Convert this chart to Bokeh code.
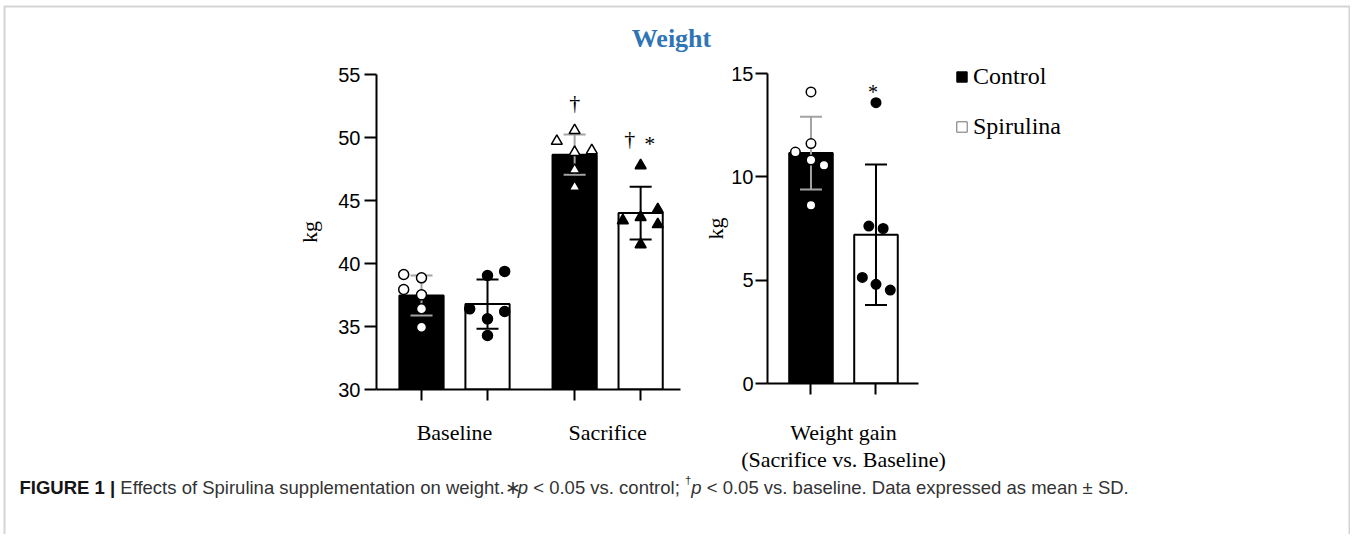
from bokeh.plotting import figure
from bokeh.models import Range1d, FixedTicker, Label, Legend, LegendItem, BoxAnnotation
from bokeh.embed import file_html
from bokeh.resources import INLINE

# ---------------- data ----------------
series_names = ["Control", "Spirulina"]
phase_labels = ["Baseline", "Sacrifice"]
gain_axis_label = "Weight gain\n(Sacrifice vs. Baseline)"
title_text = "Weight"
y_label = "kg"

baseline_control = [39.13, 38.86, 37.94, 37.51, 36.40, 34.94]
baseline_spirulina = [39.05, 39.37, 36.40, 36.19, 35.61, 34.29]
sacrifice_control = [49.71, 50.56, 48.97, 48.83, 47.43, 46.06]
sacrifice_spirulina = [47.78, 43.41, 43.67, 44.29, 43.10, 41.51]
gain_control = [14.11, 11.20, 11.61, 10.81, 10.56, 8.63]
gain_spirulina = [13.59, 7.62, 7.50, 5.13, 4.80, 4.52]

left_means = [37.46, 36.78, 48.64, 44.00]
left_sds = [1.59, 1.96, 1.60, 2.10]
gain_means = [11.15, 7.20]
gain_sds = [1.76, 3.40]

left_ticks = [30, 35, 40, 45, 50, 55]
gain_ticks = [0, 5, 10, 15]

caption_parts = [
    ("FIGURE 1 |", "bold", True),
    ("Effects of Spirulina supplementation on weight.\u2217", "normal", False),
    ("p", "italic", True),
    ("< 0.05 vs. control;", "normal", True),
    ("\u2020", "sup", False),
    ("p", "italic", True),
    ("< 0.05 vs. baseline. Data expressed as mean \u00b1 SD.", "normal", False),
]

# ---------------- layout / style constants ----------------
SERIF = "Liberation Serif"
SANS = "Liberation Sans"
FILL = ["black", "white"]
LEG_LINE = ["black", "#6e6e6e"]
ERR = ["#a3a3a3", "black"]
MFILL = ["white", "black"]
BAR_W = 0.67
GROUP_GAP = 0.32
JIT_LEFT = [[-0.27, 0, -0.27, 0, 0, 0],
            [0, 0.26, -0.27, 0.26, 0, 0],
            [-0.27, 0, 0.26, 0, 0, 0],
            [0, -0.27, 0, 0.26, 0.26, 0]]
JIT_GAIN = [[0, -0.24, 0, 0, 0.2, 0],
            [0, -0.11, 0.11, -0.21, 0, 0.22]]


def pos(left, top):
    return {"position": "absolute", "left": f"{left}px", "top": f"{top}px"}


def chart_fig(width, height, xr, yr, left, right, top, bottom, at):
    p = figure(width=width, height=height, x_range=xr, y_range=yr,
               output_backend="svg", toolbar_location=None,
               min_border_left=left, min_border_right=right,
               min_border_top=top, min_border_bottom=bottom, styles=at)
    p.grid.visible = False
    p.outline_line_color = None
    p.background_fill_color = None
    p.border_fill_color = None
    return p


def style_y(ax, ticks, lab_standoff, title_standoff):
    ax.ticker = FixedTicker(ticks=ticks, minor_ticks=[])
    ax.axis_label = y_label
    ax.axis_label_text_font = SERIF
    ax.axis_label_text_font_size = "22px"
    ax.axis_label_text_font_style = "normal"
    ax.axis_label_text_color = "black"
    ax.axis_label_standoff = title_standoff
    ax.major_label_text_font = SANS
    ax.major_label_text_font_size = "20px"
    ax.major_label_text_color = "black"
    ax.major_label_standoff = lab_standoff
    ax.major_tick_out = 12
    ax.major_tick_in = 0
    ax.major_tick_line_width = 2
    ax.major_tick_line_color = "black"
    ax.minor_tick_line_color = None
    ax.axis_line_width = 2
    ax.axis_line_color = "black"


def style_x(ax, group_centers, bar_centers, labels, standoff):
    ax.ticker = FixedTicker(ticks=group_centers, minor_ticks=bar_centers)
    ax.major_label_overrides = {c: l for c, l in zip(group_centers, labels)}
    ax.major_tick_line_color = None
    ax.major_tick_out = 0
    ax.major_tick_in = 0
    ax.minor_tick_out = 11
    ax.minor_tick_in = 0
    ax.minor_tick_line_color = "black"
    ax.minor_tick_line_width = 2
    ax.axis_line_width = 2
    ax.axis_line_color = "black"
    ax.major_label_text_font = SERIF
    ax.major_label_text_font_size = "22px"
    ax.major_label_text_color = "black"
    ax.major_label_text_line_height = 1.08
    ax.major_label_standoff = standoff


def draw_panel(p, centers, means, sds, points, series_idx, markers, sizes, jit, base):
    bars = {}
    for s in (0, 1):
        idx = [i for i in range(len(centers)) if series_idx[i] == s]
        bars[s] = p.vbar(x=[centers[i] for i in idx], top=[means[i] for i in idx],
                         bottom=base, width=BAR_W, fill_color=FILL[s],
                         line_color="black", line_width=2)
    for i in range(len(centers)):
        s = series_idx[i]
        lo, hi = means[i] - sds[i], means[i] + sds[i]
        p.segment(x0=[centers[i]], y0=[lo], x1=[centers[i]], y1=[hi],
                  line_color=ERR[s], line_width=2)
        p.scatter(x=[centers[i], centers[i]], y=[lo, hi], marker="dash", size=22,
                  line_color=ERR[s], line_width=2)
    for i in range(len(centers)):
        s = series_idx[i]
        p.scatter(x=[centers[i] + j for j in jit[i]], y=points[i], marker=markers[i],
                  size=sizes[i], fill_color=MFILL[s], line_color="black", line_width=1.5)
    return bars


def add_mark(p, x, y, text, dx, dy, size):
    p.add_layout(Label(x=x, y=y, x_offset=dx, y_offset=dy, text=text,
                       text_align="center", text_baseline="middle",
                       text_font=SERIF, text_font_size=size, text_color="black"))


# ---------------- backdrop: frame, title, legend, caption ----------------
PW, PH = 1350, 534
pB = figure(width=PW, height=PH, x_range=Range1d(0, PW), y_range=Range1d(PH, 0),
            output_backend="svg", toolbar_location=None, min_border=0,
            x_axis_type=None, y_axis_type=None, styles=pos(0, 0))
pB.outline_line_color = None
pB.add_layout(BoxAnnotation(left=4, right=1349, top=6, bottom=PH + 40,
                            fill_color=None, fill_alpha=0,
                            line_color="#707070", line_width=2))
pB.add_layout(Label(x=671, y=38, text=title_text, text_align="center",
                    text_baseline="alphabetic", text_font=SERIF,
                    text_font_size="26px", text_font_style="bold", text_color="#2f75b5"))

# legend swatches: renderers with one undrawable (NaN) row so only the legend sample shows
nan = float("nan")
proxy = [pB.vbar(x=[nan], top=[nan], bottom=[nan], width=1, fill_color=FILL[k],
                 line_color=LEG_LINE[k], line_width=1) for k in (0, 1)]
legend = Legend(items=[LegendItem(label=series_names[k], renderers=[proxy[k]], index=0)
                       for k in (0, 1)],
                location=(955, PH - 140), padding=0, margin=0, spacing=22,
                glyph_width=13, glyph_height=13, label_standoff=5, label_height=28,
                label_text_font=SERIF, label_text_font_size="24px",
                label_text_color="black", border_line_color=None,
                background_fill_alpha=0)
pB.add_layout(legend)

REG = {' ': 278, 'E': 667, 'f': 278, 'e': 556, 'c': 500, 't': 278, 's': 500, 'o': 556,
       'S': 667, 'p': 556, 'i': 222, 'r': 333, 'u': 556, 'l': 222, 'n': 556, 'a': 556,
       'm': 833, 'w': 722, 'g': 556, 'h': 556, '.': 278, '\u2217': 700, '<': 584,
       '0': 556, '5': 556, 'v': 500, ';': 278, 'b': 556, 'D': 722, 'x': 500, 'd': 556,
       '\u00b1': 584, '\u2020': 556}
BOLD = {'F': 611, 'I': 278, 'G': 778, 'U': 722, 'R': 722, 'E': 667, ' ': 278, '1': 556, '|': 280}
CAP = 18.5
cx = 19.0
for text, style, space in caption_parts:
    size = CAP * (0.62 if style == "sup" else 1.0)
    table = BOLD if style == "bold" else REG
    pB.add_layout(Label(x=cx, y=487, text=text,
                        y_offset=(0.4 * CAP if style == "sup" else 0),
                        text_align="left", text_baseline="alphabetic", text_font=SANS,
                        text_font_size=f"{size:.2f}px",
                        text_font_style=("bold" if style == "bold" else "italic" if style == "italic" else "normal"),
                        text_color=("#151515" if style == "bold" else "#333333")))
    cx += sum(table.get(ch, 556) for ch in text) * size / 1000.0
    if space:
        cx += REG[' '] * CAP / 1000.0

# ---------------- left panel: Baseline / Sacrifice ----------------
centers_left = [g * (2 + GROUP_GAP) + s + 0.5 for g in range(2) for s in range(2)]
groups_left = [g * (2 + GROUP_GAP) + 1.0 for g in range(2)]
series_left = [0, 1, 0, 1]
points_left = [baseline_control, baseline_spirulina, sacrifice_control, sacrifice_spirulina]

pL = chart_fig(690, 425, Range1d(-0.182, 4.424), Range1d(left_ticks[0], left_ticks[-1]),
               366, 20, 19, 91, pos(10, 55))
draw_panel(pL, centers_left, left_means, left_sds, points_left, series_left,
           ["circle", "circle", "triangle", "triangle"], [10, 10, 11, 11],
           JIT_LEFT, left_ticks[0])
style_y(pL.yaxis[0], left_ticks, 4, 13)
style_x(pL.xaxis[0], groups_left, centers_left, phase_labels, 19)
add_mark(pL, centers_left[2], max(sacrifice_control), "\u2020", 0, 28, "22px")
add_mark(pL, centers_left[3], max(sacrifice_spirulina), "\u2020", -11, 27, "22px")
add_mark(pL, centers_left[3], max(sacrifice_spirulina), "*", 9, 22, "22px")

# ---------------- right panel: Weight gain ----------------
centers_gain = [0.5, 1.5]
pR = chart_fig(300, 425, Range1d(-0.169, 2.154), Range1d(gain_ticks[0], gain_ticks[-1]),
               67, 82, 18, 97, pos(700, 55))
draw_panel(pR, centers_gain, gain_means, gain_sds, [gain_control, gain_spirulina],
           [0, 1], ["circle", "circle"], [9.5, 9.5], JIT_GAIN, gain_ticks[0])
style_y(pR.yaxis[0], gain_ticks, 2, 0)
style_x(pR.xaxis[0], [1.0], centers_gain, [gain_axis_label], 25)
add_mark(pR, centers_gain[1], max(gain_spirulina), "*", -3, 11, "20px")

open("out.html", "w").write(file_html([pB, pL, pR], INLINE))
